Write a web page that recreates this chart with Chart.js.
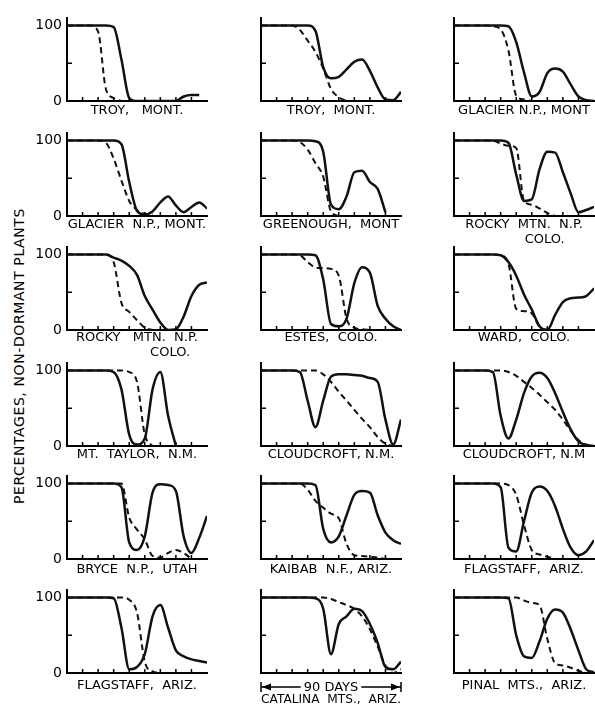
<!DOCTYPE html>
<html>
<head>
<meta charset="utf-8">
<script src="https://cdn.jsdelivr.net/npm/chart.js@4.4.1/dist/chart.umd.min.js"></script>
<style>
  body { margin: 0; background: #fff; }
  #page { position: relative; width: 595px; height: 706px; overflow: hidden; background: #fff; }
  #page canvas { position: absolute; }
  #ylabel {
    position: absolute; left: 19px; top: 356px; width: 330px;
    transform: translate(-50%, -50%) rotate(-90deg);
    text-align: center; white-space: nowrap;
    font: 14px 'DejaVu Sans', sans-serif; letter-spacing: 0.6px; color: #000;
  }
</style>
</head>
<body>
<div id="page">
  <div id="ylabel">PERCENTAGES, NON-DORMANT PLANTS</div>
</div>
<script>
// days after start, shared by every panel
const days = [0, 5, 10, 15, 20, 25, 30, 35, 40, 45, 50, 55, 60, 65, 70, 75, 80, 85, 90];

// station names, read left to right, top to bottom
const sites = [
  'TROY,   MONT.',
  'TROY,  MONT.',
  'GLACIER N.P., MONT',
  'GLACIER  N.P., MONT.',
  'GREENOUGH,  MONT',
  ['ROCKY  MTN.  N.P.', '          COLO.'],
  ['ROCKY   MTN.  N.P.', '                COLO.'],
  'ESTES,  COLO.',
  'WARD,  COLO.',
  'MT.  TAYLOR,  N.M.',
  'CLOUDCROFT, N.M.',
  'CLOUDCROFT, N.M',
  'BRYCE  N.P.,  UTAH',
  'KAIBAB  N.F., ARIZ.',
  'FLAGSTAFF,  ARIZ.',
  'FLAGSTAFF,  ARIZ.',
  'CATALINA  MTS.,  ARIZ.',
  'PINAL  MTS.,  ARIZ.'
];

// percent non-dormant plants, solid curve
const solid = [
  [100,100,100,100,100,100,98,55,4,0,0,0,0,0,0,6,8,8,null],
  [100,100,100,100,100,100,100,93,45,30,32,42,52,55,40,18,2,1,12],
  [100,100,100,100,100,100,100,99,78,38,6,12,37,43,39,22,6,1,0],
  [100,100,100,100,100,100,100,95,45,7,2,6,18,26,14,5,12,18,10],
  [100,100,100,100,100,100,100,99,85,15,9,26,58,60,45,36,5,null,null],
  [100,100,100,100,100,100,100,97,55,20,22,62,85,84,58,30,5,8,12],
  [100,100,100,100,100,100,96,92,85,73,45,27,10,0,1,18,45,60,63],
  [100,100,100,100,100,100,100,99,67,8,5,15,62,83,76,32,15,5,0],
  [100,100,100,100,100,100,99,90,72,47,27,5,0,20,37,42,43,45,55],
  [100,100,100,100,100,100,98,75,15,2,10,75,98,40,0,null,null,null,null],
  [100,100,100,100,100,98,60,25,60,92,95,95,94,93,90,85,35,2,35],
  [100,100,100,100,100,98,40,10,35,70,92,97,90,70,45,22,6,1,0],
  [100,100,100,100,100,100,100,95,22,12,30,88,99,98,90,30,8,28,57],
  [100,100,100,100,100,100,100,98,40,22,30,58,85,90,88,58,35,25,20],
  [100,100,100,100,100,100,95,15,10,50,88,96,90,70,40,15,5,10,25],
  [100,100,100,100,100,100,99,60,5,8,25,75,90,60,30,22,18,16,14],
  [100,100,100,100,100,100,100,99,85,25,65,75,85,82,65,40,8,5,15],
  [100,100,100,100,100,100,100,99,50,22,20,42,72,84,80,58,30,5,1]
];

// percent non-dormant plants, dashed curve
const dashed = [
  [100,100,100,100,92,16,4,0,null,null,null,null,null,null,null,null,null,null,null],
  [100,100,100,100,100,94,80,65,43,16,5,0,null,null,null,null,null,null,null],
  [100,100,100,100,100,99,95,67,7,2,0,null,null,null,null,null,null,null,null],
  [100,100,100,100,100,97,76,47,20,8,3,2,null,null,null,null,null,null,null],
  [100,100,100,100,100,98,88,70,52,6,0,null,null,null,null,null,null,null,null],
  [100,100,100,100,100,100,96,93,90,20,15,10,4,0,null,null,null,null,null],
  [100,100,100,100,100,100,90,36,24,13,3,0,null,null,null,null,null,null,null],
  [100,100,100,100,100,99,90,83,82,81,72,15,3,1,0,null,null,null,null],
  [100,100,100,100,100,100,99,88,28,25,22,4,0,null,null,null,null,null,null],
  [100,100,100,100,100,100,100,100,98,85,15,0,null,null,null,null,null,null,null],
  [100,100,100,100,100,100,100,100,95,85,72,60,48,36,25,12,3,0,null],
  [100,100,100,100,100,100,100,98,93,85,77,68,58,48,35,20,8,2,0],
  [100,100,100,100,100,100,100,100,55,39,26,4,2,8,12,8,0,null,null],
  [100,100,100,100,100,100,92,77,68,60,54,20,5,4,3,2,0,null,null],
  [100,100,100,100,100,100,100,98,85,45,12,6,3,0,null,null,null,null,null],
  [100,100,100,100,100,100,100,100,97,80,15,2,0,null,null,null,null,null,null],
  [100,100,100,100,100,100,100,100,100,98,94,90,85,75,58,35,10,0,5],
  [100,100,100,100,100,100,100,100,100,96,93,90,45,13,10,7,3,0,null]
];

const yTickValues = [0, 100];
const dayMarks = [10, 20, 30, 40, 50, 60, 70, 80];
const midMark = 50;
const spanLabel = '90 DAYS';

// layout
const colX = [67, 261, 454];          // pixel x of each column's y axis
const rowY = [101, 216, 330, 446, 559, 673]; // pixel y of each row's x axis
const labelGap = [10, 9, 8, 9, 11, 13];
const AXIS_W = 45, PLOT_W = 140, PLOT_H = 83, PAD_T = 4, PAD_R = 6, XAXIS_H = 46;
const FONT = "'DejaVu Sans', sans-serif";
const LH = 1.1, TITLE_SIZE = 13;
const page = document.getElementById('page');

// small marks pointing into the plot
const insideTicks = {
  id: 'insideTicks',
  afterDatasetsDraw(chart) {
    const { ctx, chartArea, scales: { x, y } } = chart;
    ctx.save();
    ctx.strokeStyle = '#000';
    ctx.lineWidth = 1.5;
    ctx.beginPath();
    dayMarks.forEach(v => {
      const px = x.getPixelForValue(v);
      ctx.moveTo(px, chartArea.bottom);
      ctx.lineTo(px, chartArea.bottom - 4);
    });
    const py = y.getPixelForValue(midMark);
    ctx.moveTo(chartArea.left, py);
    ctx.lineTo(chartArea.left + 5, py);
    ctx.stroke();
    ctx.restore();
  }
};

// |<-- 90 DAYS -->| under the Catalina panel
const daysArrow = {
  id: 'daysArrow',
  afterDraw(chart) {
    const { ctx, chartArea, scales: { x } } = chart;
    const x0 = x.getPixelForValue(days[0]);
    const x1 = x.getPixelForValue(days[days.length - 1]);
    const yy = chartArea.bottom + 14;
    ctx.save();
    ctx.strokeStyle = '#000';
    ctx.fillStyle = '#000';
    ctx.lineWidth = 1.5;
    ctx.font = TITLE_SIZE + 'px ' + FONT;
    const tw = ctx.measureText(spanLabel).width;
    const mid = (x0 + x1) / 2;
    ctx.beginPath();
    ctx.moveTo(x0, yy - 5); ctx.lineTo(x0, yy + 5);
    ctx.moveTo(x1, yy - 5); ctx.lineTo(x1, yy + 5);
    ctx.moveTo(x0, yy); ctx.lineTo(mid - tw / 2 - 3, yy);
    ctx.moveTo(mid + tw / 2 + 3, yy); ctx.lineTo(x1, yy);
    ctx.stroke();
    ctx.beginPath();
    ctx.moveTo(x0 + 1, yy); ctx.lineTo(x0 + 10, yy - 3.5); ctx.lineTo(x0 + 10, yy + 3.5); ctx.closePath();
    ctx.moveTo(x1 - 1, yy); ctx.lineTo(x1 - 10, yy - 3.5); ctx.lineTo(x1 - 10, yy + 3.5); ctx.closePath();
    ctx.fill();
    ctx.textAlign = 'center';
    ctx.textBaseline = 'middle';
    ctx.fillText(spanLabel, mid, yy + 1);
    ctx.restore();
  }
};

function toPoints(vals) {
  return days.map((d, i) => ({ x: d, y: vals[i] }));
}

sites.forEach((site, i) => {
  const row = Math.floor(i / 3), col = i % 3;
  const canvas = document.createElement('canvas');
  const w = AXIS_W + PLOT_W + PAD_R;
  const h = PAD_T + PLOT_H + XAXIS_H;
  canvas.width = w; canvas.height = h;
  canvas.style.width = w + 'px'; canvas.style.height = h + 'px';
  canvas.style.left = (colX[col] - AXIS_W) + 'px';
  canvas.style.top = (rowY[row] - PLOT_H - PAD_T) + 'px';
  page.appendChild(canvas);

  const lines = Array.isArray(site) ? site : [site];
  const lh = TITLE_SIZE * LH;
  const gap = i === 16 ? 27 : labelGap[row];
  const padBottom = XAXIS_H - gap - lh / 2 - lh * (lines.length - 1);

  new Chart(canvas.getContext('2d'), {
    type: 'line',
    data: {
      datasets: [
        {
          data: toPoints(solid[i]),
          borderColor: '#111',
          borderWidth: 2.5,
          pointRadius: 0,
          cubicInterpolationMode: 'monotone',
          spanGaps: false
        },
        {
          data: toPoints(dashed[i]),
          borderColor: '#111',
          borderWidth: 2,
          borderDash: [6, 4],
          pointRadius: 0,
          cubicInterpolationMode: 'monotone',
          spanGaps: false
        }
      ]
    },
    options: {
      responsive: false,
      animation: false,
      events: [],
      layout: { padding: { top: PAD_T, right: PAD_R, left: 0, bottom: 0 } },
      plugins: { legend: { display: false }, tooltip: { enabled: false } },
      scales: {
        x: {
          type: 'linear',
          min: days[0],
          max: days[days.length - 1],
          border: { display: true, color: '#000', width: 2 },
          grid: { display: true, drawOnChartArea: false, drawTicks: false },
          ticks: { display: false },
          title: {
            display: true,
            text: lines,
            color: '#000',
            font: { family: FONT, size: TITLE_SIZE, lineHeight: LH },
            padding: { top: 0, bottom: padBottom }
          },
          afterFit: s => { s.height = XAXIS_H; s.paddingLeft = 0; s.paddingRight = 0; }
        },
        y: {
          min: 0,
          max: 110,
          border: { display: true, color: '#000', width: 2 },
          grid: { display: true, drawOnChartArea: false, drawTicks: false },
          ticks: {
            display: col === 0,
            color: '#000',
            padding: 5,
            font: { family: FONT, size: 14 }
          },
          afterBuildTicks: s => { s.ticks = yTickValues.map(v => ({ value: v })); },
          afterFit: s => { s.width = AXIS_W; s.paddingTop = 0; s.paddingBottom = 0; }
        }
      }
    },
    plugins: i === 16 ? [insideTicks, daysArrow] : [insideTicks]
  });
});
</script>
</body>
</html>
